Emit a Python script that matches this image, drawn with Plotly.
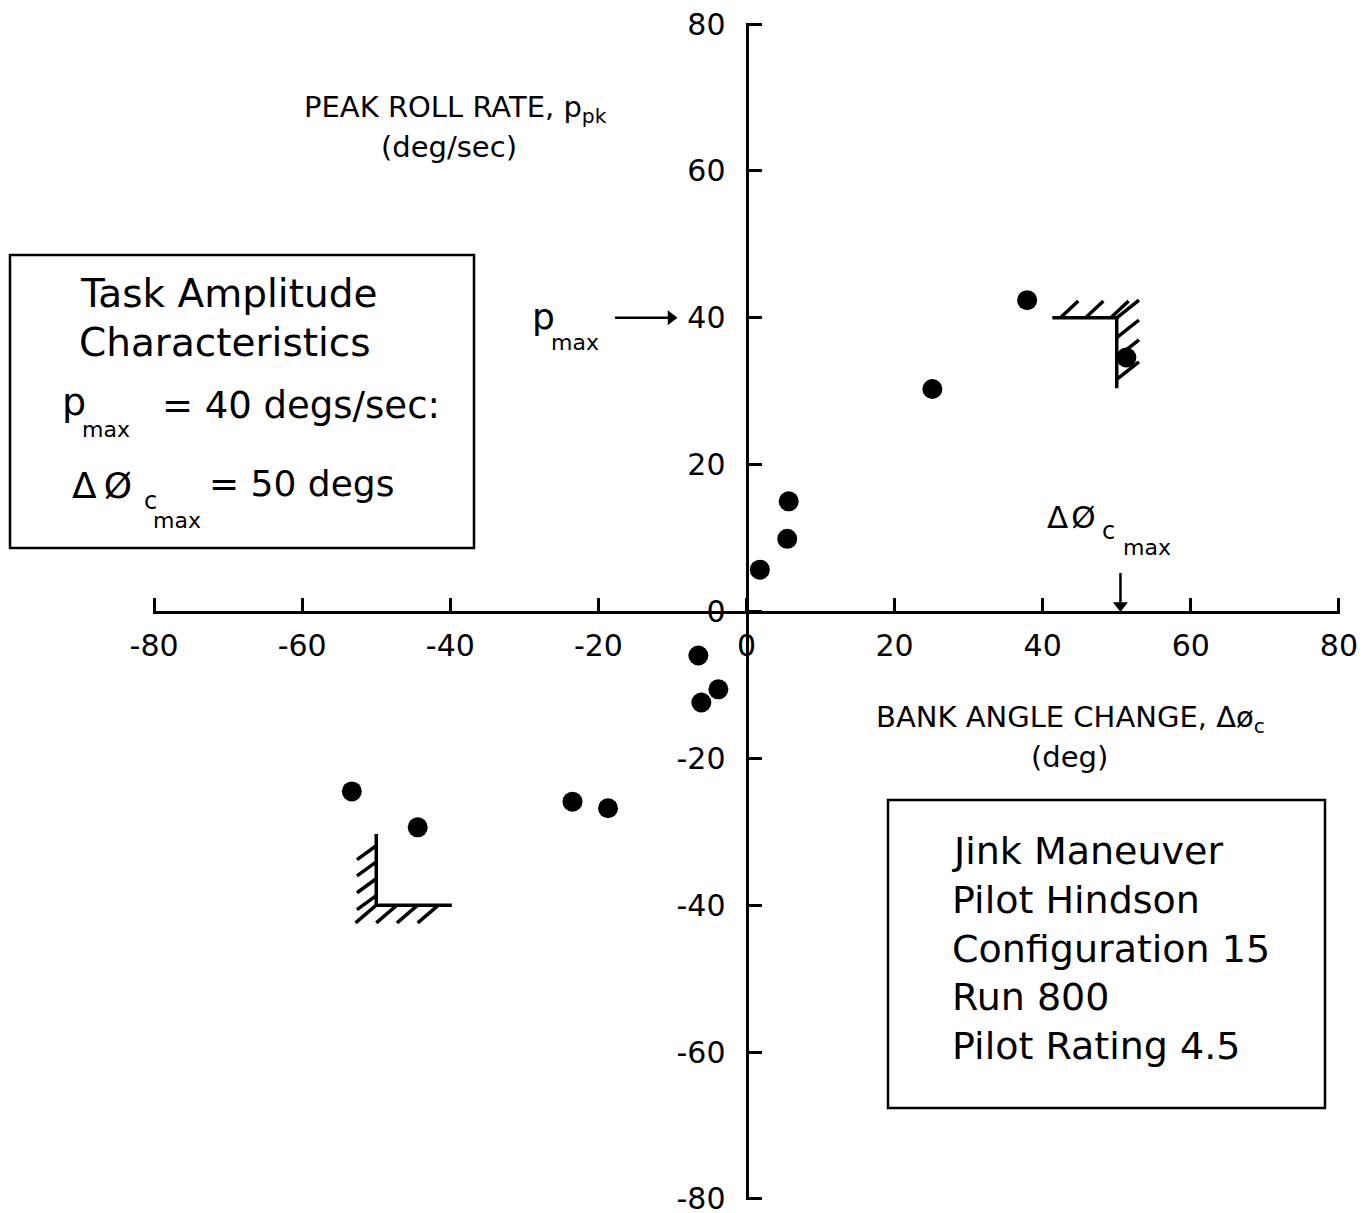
import plotly.graph_objects as go

# ---- data ----
bank_angle = [37.9, 51.3, 25.1, 5.7, 5.5, 1.8, -6.5, -3.8, -6.1, -23.5, -18.7, -53.3, -44.4]
peak_roll_rate = [42.4, 34.6, 30.3, 15.0, 9.9, 5.7, -6.0, -10.6, -12.4, -25.9, -26.8, -24.5, -29.4]
tick_vals = [-80, -60, -40, -20, 0, 20, 40, 60, 80]
tick_text = ["-80", "-60", "-40", "-20", "0", "20", "40", "60", "80"]
p_max = 40
dphi_max = 50

FONT = "DejaVu Sans"
OFF = 8                      # default page body margin
W, H = 1365 - OFF, 1213 - OFF
L, R, T, B = 153, 1340, 23, 1200   # plot area in page pixels
RNG = 80.15


def PX(x):
    return (x - L) / (R - L)


def PY(y):
    return (B - y) / (B - T)


def DX(px):
    return (px - (L + R) / 2) / ((R - L) / (2 * RNG))


def DY(py):
    return ((T + B) / 2 - py) / ((B - T) / (2 * RNG))


fig = go.Figure()

fig.add_trace(go.Scatter(
    x=bank_angle, y=peak_roll_rate, mode="markers",
    marker=dict(size=20, color="black", symbol="circle"),
    showlegend=False, hoverinfo="skip"))

# ---- hatched boundary marks (derived from the task amplitude limits) ----
hx, hy = [], []
hx += [dphi_max - 8.7, dphi_max, dphi_max, None]
hy += [p_max, p_max, p_max - 9.6, None]
for off in [-7.6, -4.2, -0.8]:
    hx += [dphi_max + off, dphi_max + off + 2.4, None]
    hy += [p_max, p_max + 2.3, None]
for off in [0, -2.7, -5.4, -8.4]:
    hx += [dphi_max, dphi_max + 3.0, None]
    hy += [p_max + off, p_max + off + 2.4, None]
hx += [-dphi_max, -dphi_max, -dphi_max + 10.2, None]
hy += [-p_max + 9.7, -p_max, -p_max, None]
for off in [8.1, 5.9, 3.6, 1.3]:
    hx += [-dphi_max, -dphi_max - 2.6, None]
    hy += [-p_max + off, -p_max + off - 1.9, None]
for off in [0.0, 2.8, 5.6, 8.4]:
    hx += [-dphi_max + off, -dphi_max + off - 2.8, None]
    hy += [-p_max, -p_max - 2.4, None]

fig.add_trace(go.Scatter(x=hx, y=hy, mode="lines",
                         line=dict(color="black", width=3.5),
                         showlegend=False, hoverinfo="skip"))

# ---- pointer arrows ----
fig.add_trace(go.Scatter(
    x=[DX(615), DX(672), None, dphi_max + 0.5, dphi_max + 0.5],
    y=[p_max, p_max, None, DY(573), DY(605)],
    mode="lines", line=dict(color="black", width=2.5),
    showlegend=False, hoverinfo="skip"))
fig.add_trace(go.Scatter(
    x=[DX(671)], y=[p_max], mode="markers",
    marker=dict(symbol="triangle-right", size=13, color="black"),
    showlegend=False, hoverinfo="skip"))
fig.add_trace(go.Scatter(
    x=[dphi_max + 0.5], y=[DY(605.5)], mode="markers",
    marker=dict(symbol="triangle-down", size=13, color="black"),
    showlegend=False, hoverinfo="skip"))

axis_common = dict(
    range=[-RNG, RNG], tickmode="array", tickvals=tick_vals, ticktext=tick_text,
    ticks="inside", ticklen=13, tickwidth=2.5, tickcolor="black",
    showline=True, linecolor="black", linewidth=3,
    showgrid=False, zeroline=False, anchor="free", position=0.5,
    tickfont=dict(family=FONT, size=30, color="black"),
    automargin=False, fixedrange=True, ticklabeloverflow="allow",
)

fig.update_layout(
    width=W, height=H,
    margin=dict(l=L - OFF, r=W - (R - OFF), t=T - OFF, b=H - (B - OFF)),
    paper_bgcolor="white", plot_bgcolor="white",
    xaxis=dict(**axis_common, ticklabelstandoff=6),
    yaxis=dict(**axis_common, ticklabelstandoff=14),
    showlegend=False,
    font=dict(family=FONT, color="black"),
)

ann = []


def text(t, x, y, size, xanchor="center", yanchor="middle"):
    ann.append(dict(text=t, x=PX(x), y=PY(y), xref="paper", yref="paper",
                    xanchor=xanchor, yanchor=yanchor, showarrow=False,
                    font=dict(family=FONT, size=size, color="black")))


# axis titles
text("PEAK ROLL RATE, p<sub>pk</sub>", 456, 109, 29)
text("(deg/sec)", 449, 147, 29)
text("BANK ANGLE CHANGE, Δø<sub>c</sub>", 1070, 719, 29)
text("(deg)", 1069, 757, 29)

# p_max pointer label
text("p", 530, 316, 36, xanchor="left")
text("max", 549, 343, 22, xanchor="left")

# delta phi c max pointer label
text("Δ\u200aØ", 1045, 517, 31, xanchor="left")
text("c", 1100, 531, 24, xanchor="left")
text("max", 1121, 547, 22, xanchor="left")

# box 1
text("Task Amplitude", 228, 293, 39)
text("Characteristics", 225, 342, 39)
text("p", 60, 402, 38, xanchor="left")
text("max", 80, 429, 22, xanchor="left")
text("= 40 degs/sec:", 160, 406, 37, xanchor="left")
text("Δ\u2009Ø", 70, 485, 36, xanchor="left")
text("c", 142, 501, 24, xanchor="left")
text("max", 151, 520, 22, xanchor="left")
text("= 50 degs", 207, 483, 36, xanchor="left")

# box 2
for i, line in enumerate(["Jink Maneuver", "Pilot Hindson", "Configuration 15",
                          "Run 800", "Pilot Rating 4.5"]):
    text(line, 950, 851 + i * 48.8, 38, xanchor="left")

fig.update_layout(annotations=ann)

shapes = [
    dict(type="rect", xref="paper", yref="paper",
         x0=PX(10), x1=PX(474), y0=PY(548), y1=PY(255),
         line=dict(color="black", width=2.5), fillcolor="rgba(0,0,0,0)"),
    dict(type="rect", xref="paper", yref="paper",
         x0=PX(888), x1=PX(1325), y0=PY(1108), y1=PY(800),
         line=dict(color="black", width=2.5), fillcolor="rgba(0,0,0,0)"),
]
fig.update_layout(shapes=shapes)

fig.write_html("out.html")
